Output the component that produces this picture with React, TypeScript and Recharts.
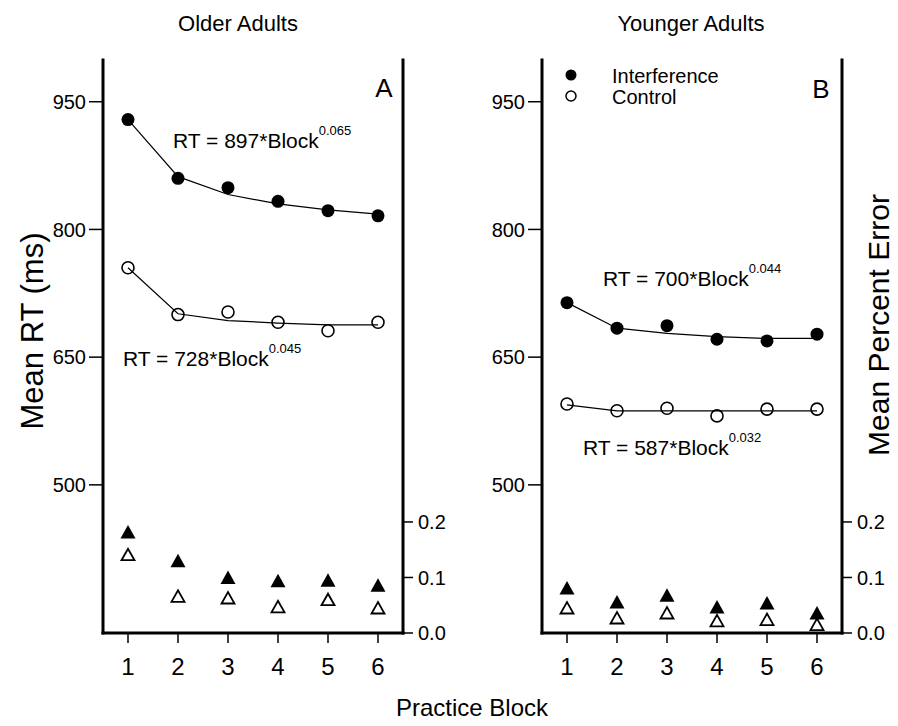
import React from 'react';
import { ComposedChart, Line, XAxis, YAxis } from 'recharts';

const FONT = '"Liberation Sans", Arial, Helvetica, sans-serif';

// ---- data ----
const blocks = [1, 2, 3, 4, 5, 6];
const xTicks = [1, 2, 3, 4, 5, 6];
const rtTicks = [500, 650, 800, 950];
const errTicks = [0, 0.1, 0.2];

const olderInterferenceRT = [929, 860, 849, 833, 822, 816];
const olderControlRT = [755, 700, 703, 691, 681, 691];
const olderInterferenceFit = [929, 862, 841, 830, 823, 818];
const olderControlFit = [755, 701, 693, 690, 688, 688];
const olderInterferenceErr = [0.182, 0.13, 0.1, 0.094, 0.095, 0.086];
const olderControlErr = [0.141, 0.066, 0.063, 0.047, 0.06, 0.045];

const youngerInterferenceRT = [714, 684, 687, 671, 669, 677];
const youngerControlRT = [595, 587, 590, 581, 589, 589];
const youngerInterferenceFit = [714, 684, 678, 674, 672, 672];
const youngerControlFit = [594, 587, 587, 587, 587, 587];
const youngerInterferenceErr = [0.081, 0.056, 0.068, 0.047, 0.054, 0.036];
const youngerControlErr = [0.045, 0.027, 0.036, 0.022, 0.024, 0.015];

const rtDomain = [326, 999];
const errDomain = [0, 1.032];
const xDomain = [0.5, 6.5];

function buildData(iRT, cRT, iFit, cFit, iErr, cErr) {
  return blocks.map((b, i) => ({
    block: b,
    intRT: iRT[i],
    ctlRT: cRT[i],
    intFit: iFit[i],
    ctlFit: cFit[i],
    intErr: iErr[i],
    ctlErr: cErr[i],
  }));
}

const olderData = buildData(olderInterferenceRT, olderControlRT, olderInterferenceFit, olderControlFit, olderInterferenceErr, olderControlErr);
const youngerData = buildData(youngerInterferenceRT, youngerControlRT, youngerInterferenceFit, youngerControlFit, youngerInterferenceErr, youngerControlErr);

// ---- marker shapes ----
const FilledCircle = (p: any) =>
  p.cx == null ? <g key={p.index} /> : <circle key={p.index} cx={p.cx} cy={p.cy} r={6.5} fill="#000" />;
const OpenCircle = (p: any) =>
  p.cx == null ? <g key={p.index} /> : <circle key={p.index} cx={p.cx} cy={p.cy} r={6} fill="none" stroke="#000" strokeWidth={1.6} />;
const FilledTri = (p: any) =>
  p.cx == null ? (
    <g key={p.index} />
  ) : (
    <polygon key={p.index} points={`${p.cx - 7.5},${p.cy + 6.5} ${p.cx + 7.5},${p.cy + 6.5} ${p.cx},${p.cy - 7}`} fill="#000" />
  );
const OpenTri = (p: any) =>
  p.cx == null ? (
    <g key={p.index} />
  ) : (
    <polygon key={p.index} points={`${p.cx - 6.5},${p.cy + 5.5} ${p.cx + 6.5},${p.cy + 5.5} ${p.cx},${p.cy - 6}`} fill="none" stroke="#000" strokeWidth={1.8} strokeLinejoin="miter" />
  );

const axisLineStyle = { stroke: '#000', strokeWidth: 3, strokeLinecap: 'square' as const };
const tickLineStyle = { stroke: '#000', strokeWidth: 1.5 };

function Panel({ data, left, width, leftW, rightW }: any) {
  return (
    <div style={{ position: 'absolute', left, top: 0 }}>
      <ComposedChart width={width} height={726} data={data} margin={{ top: 60, right: 0, bottom: 53, left: 0 }}>
        <XAxis
          dataKey="block"
          type="number"
          domain={xDomain}
          ticks={xTicks}
          height={40}
          axisLine={axisLineStyle}
          tickLine={tickLineStyle}
          tickSize={10}
          tickMargin={15}
          tick={{ fontSize: 24, fill: '#000', fontFamily: FONT }}
          allowDataOverflow
        />
        <XAxis
          xAxisId="top"
          orientation="top"
          type="number"
          domain={xDomain}
          height={0}
          tick={false}
          tickLine={false}
          axisLine={axisLineStyle}
          allowDataOverflow
        />
        <YAxis
          yAxisId="rt"
          type="number"
          domain={rtDomain}
          ticks={rtTicks}
          width={leftW}
          axisLine={axisLineStyle}
          tickLine={tickLineStyle}
          tickSize={14}
          tickMargin={3}
          tick={{ fontSize: 20, fill: '#000', fontFamily: FONT }}
          allowDataOverflow
        />
        <YAxis
          yAxisId="err"
          orientation="right"
          type="number"
          domain={errDomain}
          ticks={errTicks}
          width={rightW}
          axisLine={axisLineStyle}
          tickLine={tickLineStyle}
          tickSize={10}
          tickMargin={5}
          tickFormatter={(v: number) => v.toFixed(1)}
          tick={{ fontSize: 20, fill: '#000', fontFamily: FONT }}
          allowDataOverflow
        />
        <Line yAxisId="rt" dataKey="intFit" type="linear" stroke="#000" strokeWidth={1.2} dot={false} activeDot={false} isAnimationActive={false} />
        <Line yAxisId="rt" dataKey="ctlFit" type="linear" stroke="#000" strokeWidth={1.2} dot={false} activeDot={false} isAnimationActive={false} />
        <Line yAxisId="rt" dataKey="intRT" stroke="none" dot={FilledCircle} activeDot={false} isAnimationActive={false} />
        <Line yAxisId="rt" dataKey="ctlRT" stroke="none" dot={OpenCircle} activeDot={false} isAnimationActive={false} />
        <Line yAxisId="err" dataKey="intErr" stroke="none" dot={FilledTri} activeDot={false} isAnimationActive={false} />
        <Line yAxisId="err" dataKey="ctlErr" stroke="none" dot={OpenTri} activeDot={false} isAnimationActive={false} />
      </ComposedChart>
    </div>
  );
}

function Eq({ x, y, coef, exp }: any) {
  return (
    <text x={x} y={y} fontSize={21} fontFamily={FONT} fill="#000">
      {`RT = ${coef}*Block`}
      <tspan fontSize={13} dy={-13}>
        {exp}
      </tspan>
    </text>
  );
}

export default function App() {
  return (
    <div style={{ position: 'absolute', left: 0, top: 0, width: 898, height: 726, background: '#fff', fontFamily: FONT }}>
      <Panel data={olderData} left={0} width={470} leftW={103} rightW={67} />
      <Panel data={youngerData} left={470} width={428} leftW={72} rightW={56} />
      <svg width={898} height={726} style={{ position: 'absolute', left: 0, top: 0, pointerEvents: 'none' }}>
        <text x={238} y={31} fontSize={22} textAnchor="middle" fontFamily={FONT} fill="#000">Older Adults</text>
        <text x={691} y={31} fontSize={22} textAnchor="middle" fontFamily={FONT} fill="#000">Younger Adults</text>
        <text x={43} y={331} fontSize={31} textAnchor="middle" fontFamily={FONT} fill="#000" transform="rotate(-90 43 331)">Mean RT (ms)</text>
        <text x={889} y={325} fontSize={30} textAnchor="middle" fontFamily={FONT} fill="#000" transform="rotate(-90 889 325)">Mean Percent Error</text>
        <text x={472} y={716} fontSize={24} textAnchor="middle" fontFamily={FONT} fill="#000">Practice Block</text>
        <text x={384} y={97} fontSize={26} textAnchor="middle" fontFamily={FONT} fill="#000">A</text>
        <text x={821} y={98} fontSize={26} textAnchor="middle" fontFamily={FONT} fill="#000">B</text>
        <Eq x={173} y={148} coef={897} exp="0.065" />
        <Eq x={123} y={366} coef={728} exp="0.045" />
        <Eq x={603} y={286} coef={700} exp="0.044" />
        <Eq x={583} y={455} coef={587} exp="0.032" />
        <circle cx={571} cy={75} r={5.5} fill="#000" />
        <text x={612} y={83} fontSize={20} fontFamily={FONT} fill="#000">Interference</text>
        <circle cx={571} cy={96} r={5} fill="none" stroke="#000" strokeWidth={1.5} />
        <text x={612} y={104} fontSize={20} fontFamily={FONT} fill="#000">Control</text>
      </svg>
    </div>
  );
}
